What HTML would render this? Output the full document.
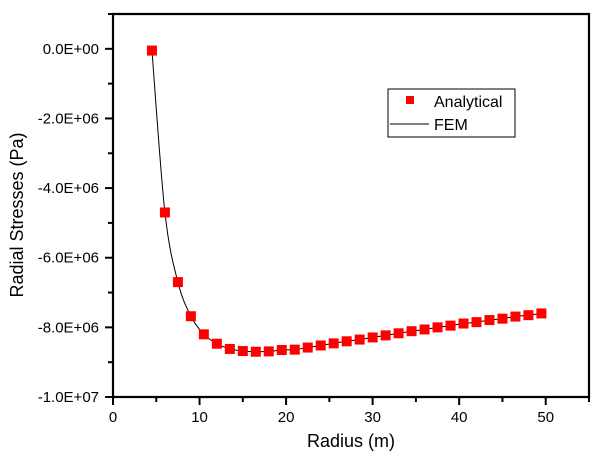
<!DOCTYPE html>
<html><head><meta charset="utf-8"><style>
body{margin:0;background:#fff;}
svg text{font-family:"Liberation Sans",Arial,sans-serif;}
</style></head><body>
<svg width="603" height="465" viewBox="0 0 603 465" xmlns="http://www.w3.org/2000/svg" style="position:absolute;left:0;top:0">
<path d="M113,14 H589 V397" fill="none" stroke="#000" stroke-width="2.2"/>
<g id="plot"></g>
<text x="351" y="447" text-anchor="middle" font-size="18">Radius (m)</text>
<text transform="translate(23,215) rotate(-90)" text-anchor="middle" font-size="18">Radial Stresses (Pa)</text>
<g>
<rect x="388" y="89" width="127" height="48" fill="#fff" stroke="#000" stroke-width="1"/>
<rect x="406" y="96" width="8" height="8" fill="#f00"/>
<text x="434" y="107" font-size="16">Analytical</text>
<line x1="390" x2="429" y1="124" y2="124" stroke="#000" stroke-width="1"/>
<text x="434" y="130" font-size="16">FEM</text>
</g>
</svg>
<script>
const radius=[4.5,6,7.5,9,10.5,12,13.5,15,16.5,18,19.5,21,22.5,24,25.5,27,28.5,30,31.5,33,34.5,36,37.5,39,40.5,42,43.5,45,46.5,48,49.5];
const analytical=[-0.05e6,-4.7e6,-6.7e6,-7.68e6,-8.2e6,-8.47e6,-8.62e6,-8.68e6,-8.70e6,-8.69e6,-8.65e6,-8.64e6,-8.58e6,-8.52e6,-8.46e6,-8.40e6,-8.35e6,-8.29e6,-8.23e6,-8.17e6,-8.11e6,-8.06e6,-8.00e6,-7.95e6,-7.89e6,-7.85e6,-7.79e6,-7.75e6,-7.69e6,-7.65e6,-7.60e6];
const xTicks=[0,10,20,30,40,50];
const yTicks=[0,-2e6,-4e6,-6e6,-8e6,-1e7];
const yTickLabels=["0.0E+00","-2.0E+06","-4.0E+06","-6.0E+06","-8.0E+06","-1.0E+07"];
const X0=113,X1=589,Y0=14,Y1=397;
const xmin=0,xmax=55,ymin=-1e7,ymax=1e6;
const sx=v=>X0+(v-xmin)/(xmax-xmin)*(X1-X0);
const sy=v=>Y1-(v-ymin)/(ymax-ymin)*(Y1-Y0);
const NS="http://www.w3.org/2000/svg";
const g=document.getElementById('plot');
function mk(t,a){const e=document.createElementNS(NS,t);for(const k in a)e.setAttribute(k,a[k]);g.appendChild(e);return e;}
let d="";
for(let i=0;i<radius.length;i++){
 const x=sx(radius[i]),y=sy(analytical[i]);
 if(i===0)d+="M"+x+","+y;
 else{const p0=i>1?[sx(radius[i-2]),sy(analytical[i-2])]:[sx(radius[i-1]),sy(analytical[i-1])];
 const p1=[sx(radius[i-1]),sy(analytical[i-1])];const p3=i<radius.length-1?[sx(radius[i+1]),sy(analytical[i+1])]:[x,y];
 const c1=[p1[0]+(x-p0[0])/6,p1[1]+(y-p0[1])/6],c2=[x-(p3[0]-p1[0])/6,y-(p3[1]-p1[1])/6];
 d+=" C"+c1+" "+c2+" "+x+","+y;}
}
const line=mk('path',{d:d,fill:'none',stroke:'#000','stroke-width':1});


for(let i=0;i<radius.length;i++){
 const r=mk('rect',{x:sx(radius[i])-5,y:sy(analytical[i])-5,width:10,height:10,fill:'#f00'});
 
 
}
[[X0,Y1,X1,Y1],[X0,Y0,X0,Y1]].forEach(c=>{
 const l=mk('line',{x1:c[0],y1:c[1],x2:c[2],y2:c[3],stroke:'#000','stroke-width':2.2,'stroke-linecap':'square'});
 
 
});
for(let v=0;v<=55;v+=5){const x=sx(v);const major=v%10===0;
 const t=mk('line',{x1:x,x2:x,y1:Y1,y2:Y1+(major?8:5),stroke:'#000','stroke-width':2});
 
 }
xTicks.forEach(v=>{const t=mk('text',{x:sx(v),y:422,'text-anchor':'middle','font-size':15});t.textContent=v;
 
 });
for(let v=-1e7;v<=1e6;v+=1e6){const y=sy(v);const major=Math.round(v/1e6)%2===0;
 const t=mk('line',{x1:X0,x2:X0-(major?8:5),y1:y,y2:y,stroke:'#000','stroke-width':2});
 
 }
yTicks.forEach((v,i)=>{const t=mk('text',{x:99,y:sy(v)+5,'text-anchor':'end','font-size':15});t.textContent=yTickLabels[i];
 
 });
</script>
</body></html>
